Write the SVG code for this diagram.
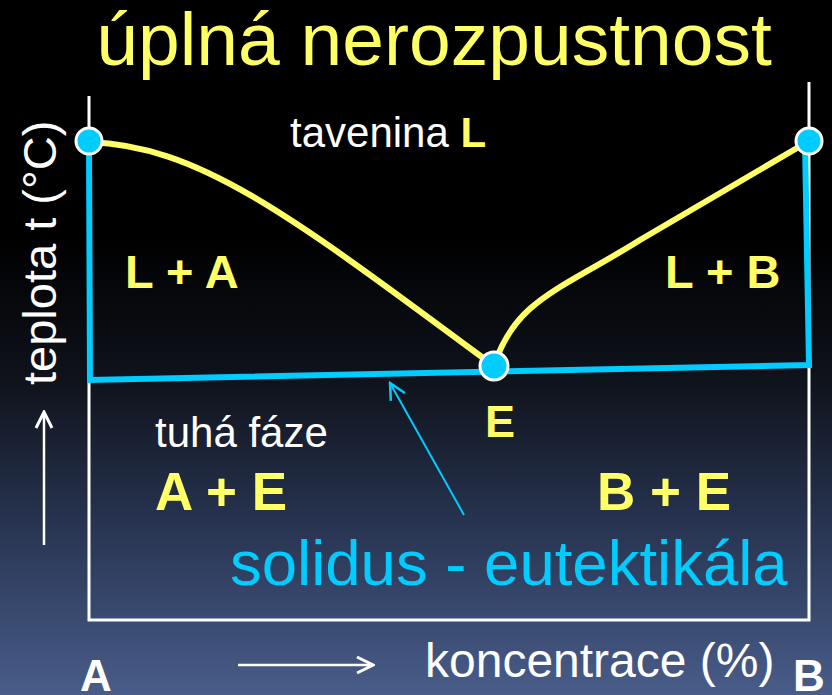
<svg xmlns="http://www.w3.org/2000/svg" width="832" height="695" viewBox="0 0 832 695">
  <defs>
    <linearGradient id="bg" x1="0" y1="0" x2="0" y2="1">
      <stop offset="0" stop-color="#000000"/>
      <stop offset="0.34" stop-color="#000000"/>
      <stop offset="0.55" stop-color="#0f131c"/>
      <stop offset="0.75" stop-color="#273350"/>
      <stop offset="1" stop-color="#495d8a"/>
    </linearGradient>
    <marker id="openW" viewBox="0 0 20 20" refX="18" refY="10" markerWidth="20" markerHeight="20" markerUnits="userSpaceOnUse" orient="auto">
      <path d="M2,2 L18,10 L2,18" fill="none" stroke="#ffffff" stroke-width="3"/>
    </marker>
    <marker id="openB" viewBox="0 0 20 20" refX="18" refY="10" markerWidth="20" markerHeight="20" markerUnits="userSpaceOnUse" orient="auto">
      <path d="M2,2 L18,10 L2,18" fill="none" stroke="#00ccff" stroke-width="2.5"/>
    </marker>
    <style>
      .t { font-family: "Liberation Sans", Arial, sans-serif; }
      .b { font-weight: bold; }
      .yl { fill: #ffff66; }
      .wh { fill: #ffffff; }
      .bl { fill: #00ccff; }
      .pt { fill: #00ccff; stroke: #ffffff; stroke-width: 3; }
    </style>
  </defs>
  <rect x="0" y="0" width="832" height="695" fill="url(#bg)"/>

  <g id="title">
    <text class="t yl" x="434" y="65" font-size="75" text-anchor="middle">úplná nerozpustnost</text>
  </g>

  <g id="frame" fill="none" stroke="#ffffff" stroke-width="3">
    <polyline points="89,96 89,620 809,620 809,82"/>
  </g>

  <g id="connectors">
    <path id="solidus" d="M89,142 L90,380 L809,365 L805,143" fill="none" stroke="#00ccff" stroke-width="6" stroke-linejoin="miter"/>
    <path id="liquidus-A" d="M89,142 C200,146 290,215 494,366" fill="none" stroke="#ffff66" stroke-width="6"/>
    <path id="liquidus-B" d="M494,366 C515,300 560,290 640,240 L809,141" fill="none" stroke="#ffff66" stroke-width="6"/>
    <line id="solidus-arrow" x1="464" y1="515" x2="390" y2="383" stroke="#00ccff" stroke-width="2" marker-end="url(#openB)"/>
    <line id="t-arrow" x1="44" y1="545" x2="44" y2="412" stroke="#ffffff" stroke-width="2.5" marker-end="url(#openW)"/>
    <line id="c-arrow" x1="238" y1="665" x2="373" y2="665" stroke="#ffffff" stroke-width="2.5" marker-end="url(#openW)"/>
  </g>

  <g id="point-A"><circle class="pt" cx="89" cy="141" r="13"/></g>
  <g id="point-B"><circle class="pt" cx="809" cy="141" r="13"/></g>
  <g id="point-E"><circle class="pt" cx="494" cy="366" r="14"/></g>

  <g id="label-tavenina">
    <text class="t" x="290" y="147" font-size="42"><tspan class="wh">tavenina </tspan><tspan class="yl b">L</tspan></text>
  </g>
  <g id="label-LA"><text class="t b yl" x="125" y="288" font-size="47">L + A</text></g>
  <g id="label-LB"><text class="t b yl" x="665" y="288" font-size="47">L + B</text></g>
  <g id="label-E"><text class="t b yl" x="500" y="437" font-size="45" text-anchor="middle">E</text></g>
  <g id="label-tuha"><text class="t wh" x="155" y="447" font-size="42">tuhá fáze</text></g>
  <g id="label-AE"><text class="t b yl" x="155" y="510" font-size="53">A + E</text></g>
  <g id="label-BE"><text class="t b yl" x="597" y="510" font-size="53">B + E</text></g>
  <g id="label-solidus"><text class="t bl" x="230" y="585" font-size="63.5">solidus - eutektikála</text></g>
  <g id="label-teplota"><text class="t wh" transform="translate(56,385) rotate(-90)" font-size="47">teplota t (°C)</text></g>
  <g id="label-A"><text class="t b wh" x="96" y="691" font-size="44" text-anchor="middle">A</text></g>
  <g id="label-B"><text class="t b wh" x="809" y="691" font-size="44" text-anchor="middle">B</text></g>
  <g id="label-konc"><text class="t wh" x="425" y="677" font-size="48">koncentrace (%)</text></g>
</svg>
